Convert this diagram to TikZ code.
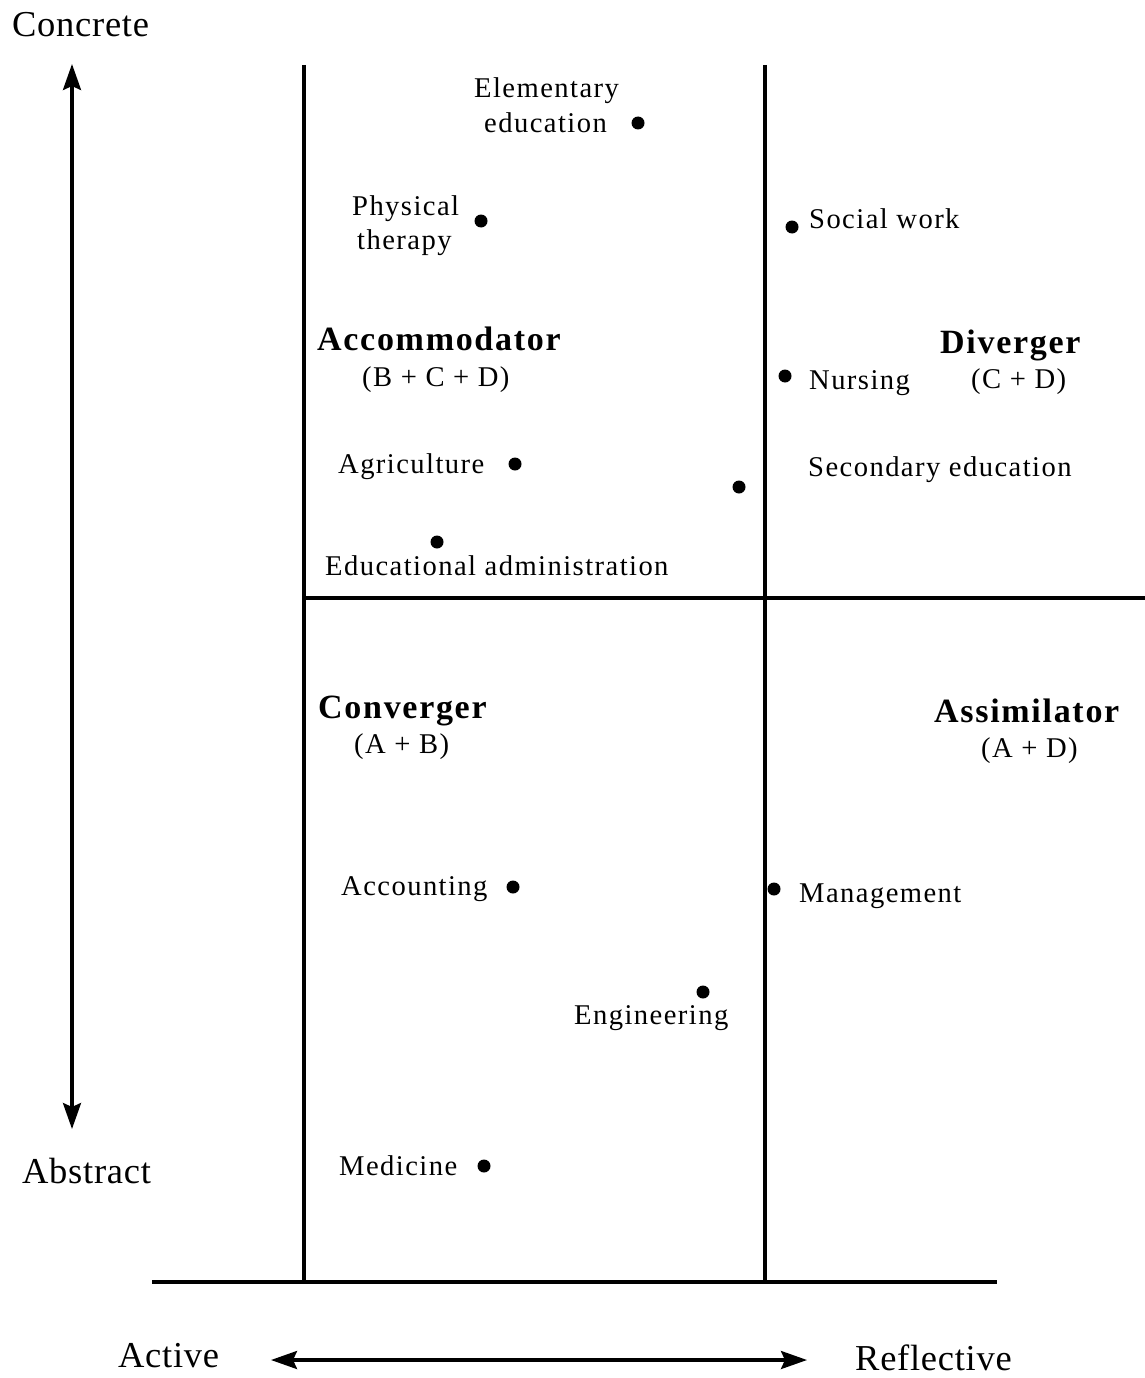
\documentclass[tikz,border=0pt]{standalone}
\usepackage{fontspec}
\setmainfont{Liberation Serif}
\newfontfamily\lblfont[LetterSpace=5]{Liberation Serif}
\newfontfamily\boldlblfont[LetterSpace=5]{Liberation Serif Bold}
\newfontfamily\axfont[LetterSpace=2]{Liberation Serif}
\usetikzlibrary{arrows.meta}
\begin{document}
\begin{tikzpicture}[x=1pt,y=-1pt,
  rule/.style={line width=3.3pt,line cap=butt},
  dblarrow/.style={line width=3.3pt,{Stealth[length=26pt,width=18pt,inset=4pt]}-{Stealth[length=26pt,width=18pt,inset=4pt]}},
  lbl/.style={anchor=base west,inner sep=0pt,font=\lblfont\fontsize{28.6}{34}\selectfont},
  style/.style={anchor=base west,inner sep=0pt,font=\boldlblfont\fontsize{34}{40}\selectfont},
  axis/.style={anchor=base west,inner sep=0pt,font=\axfont\fontsize{36.5}{44}\selectfont},
  dot/.style={circle,fill=black,inner sep=0pt,minimum size=13pt}
]
\useasboundingbox (0,0) rectangle (1145,1378);

% frame coordinates
\coordinate (lt) at (304,65);
\coordinate (lb) at (304,1283);
\coordinate (rt) at (765,65);
\coordinate (rb) at (765,1283);
\coordinate (ml) at (304,598);
\coordinate (mr) at (1145,598);
\coordinate (bl) at (152,1282);
\coordinate (br) at (997,1282);
\coordinate (vt) at (72,64);
\coordinate (vb) at (72,1129);
\coordinate (hl) at (271,1360);
\coordinate (hr) at (807,1360);

\draw[rule] (lt) -- (lb);
\draw[rule] (rt) -- (rb);
\draw[rule] (ml) -- (mr);
\draw[rule] (bl) -- (br);
\draw[dblarrow] (vb) -- (vt);
\draw[dblarrow] (hl) -- (hr);

% axis labels
\node[axis] (concrete) at (12,37) {Concrete};
\node[axis] (abstract) at (22,1183) {Abstract};
\node[axis] (active) at (118,1367) {Active};
\node[axis] (reflective) at (855,1370) {Reflective};

% style labels
\node[style] (accom) at (317,350) {Accommodator};
\node[lbl] (accomf) at (362,386) {(B + C + D)};
\node[style] (diverg) at (940,353) {Diverger};
\node[lbl] (divergf) at (971,388) {(C + D)};
\node[style] (converg) at (318,718) {Converger};
\node[lbl] (convergf) at (354,753) {(A + B)};
\node[style] (assim) at (934,722) {Assimilator};
\node[lbl] (assimf) at (981,757) {(A + D)};

% fields
\node[lbl] (elem1) at (474,98) {Elementary};
\node[lbl] (elem2) at (484,132) {education};
\node[dot] (elemd) at (638,123) {};
\node[lbl] (phys1) at (352,215) {Physical};
\node[lbl] (phys2) at (357,249) {therapy};
\node[dot] (physd) at (481,221) {};
\node[lbl] (social) at (809,228) {Social work};
\node[dot] (sociald) at (792,227) {};
\node[lbl] (nursing) at (809,389) {Nursing};
\node[dot] (nursingd) at (785,376) {};
\node[lbl] (agri) at (338,473) {Agriculture};
\node[dot] (agrid) at (515,464) {};
\node[lbl] (second) at (808,476) {Secondary education};
\node[dot] (secondd) at (739,487) {};
\node[dot] (edadmd) at (437,542) {};
\node[lbl] (edadm) at (325,575) {Educational administration};
\node[lbl] (account) at (341,895) {Accounting};
\node[dot] (accountd) at (513,887) {};
\node[lbl] (manage) at (799,902) {Management};
\node[dot] (managed) at (774,889) {};
\node[dot] (engd) at (703,992) {};
\node[lbl] (eng) at (574,1024) {Engineering};
\node[lbl] (med) at (339,1175) {Medicine};
\node[dot] (medd) at (484,1166) {};
\end{tikzpicture}
\end{document}
